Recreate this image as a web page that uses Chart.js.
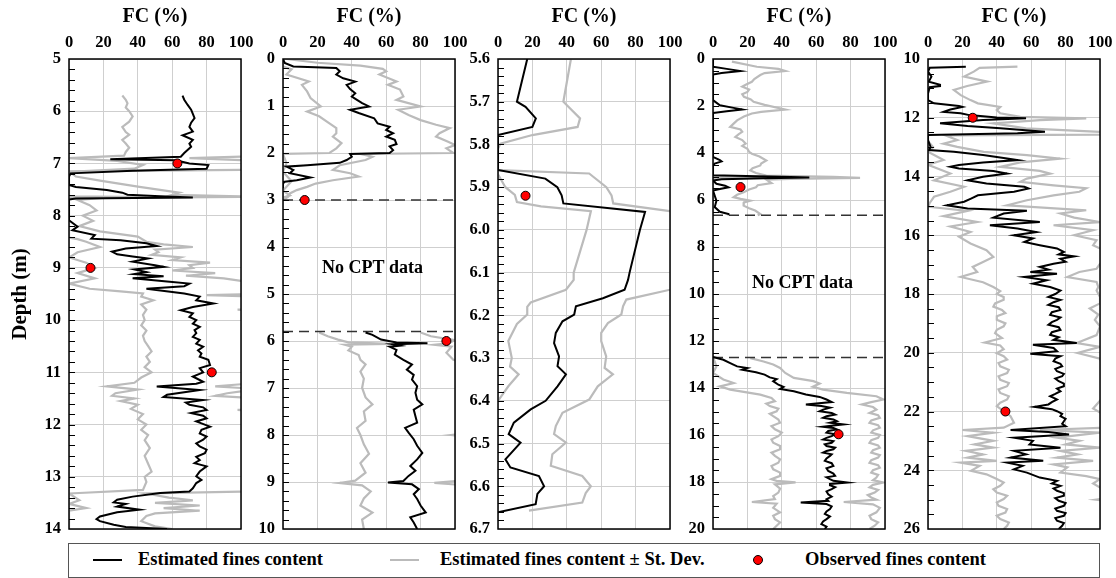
<!DOCTYPE html>
<html>
<head>
<meta charset="utf-8">
<script src="https://cdn.jsdelivr.net/npm/chart.js@4.4.0/dist/chart.umd.min.js"></script>
<style>
body { margin: 0; background: #fff; width: 1116px; height: 578px; position: relative; overflow: hidden; }
canvas { position: absolute; top: 0; }
#legend { position: absolute; left: 68px; top: 543px; width: 1032px; height: 35px; box-sizing: border-box;
  border: 1px solid #555; font: bold 18.5px 'Liberation Serif', 'Times New Roman', serif; color: #000; }
#legend .ln { position: absolute; top: 15px; width: 29px; height: 2px; }
#legend .tx { position: absolute; top: 5px; white-space: nowrap; line-height: 21px; }
#legend .dot { position: absolute; top: 11px; width: 8px; height: 8px; border-radius: 50%; background: #f00; border: 1px solid #000; }
</style>
</head>
<body>
<div id="legend">
  <span class="ln" style="left:24px;background:#000"></span><span class="tx" style="left:69px">Estimated fines content</span>
  <span class="ln" style="left:321px;background:#bbb"></span><span class="tx" style="left:371px">Estimated fines content ± St. Dev.</span>
  <span class="dot" style="left:684px"></span><span class="tx" style="left:736px">Observed fines content</span>
</div>
<script>
// [depth (m), FC (%)]
p1Est = [[5.7,66],[5.78,67],[5.88,69],[5.97,71],[6.05,72],[6.13,73],[6.22,71],[6.3,70],[6.39,72],[6.46,66],[6.55,72],[6.62,70],[6.68,71],[6.8,67],[6.87,65],[6.92,24],[6.94,62],[7.0,70],[7.03,81],[7.1,80],[7.14,37],[7.19,1],[7.25,0],[7.41,0],[7.45,4],[7.51,22],[7.56,31],[7.6,34],[7.63,53],[7.65,72],[7.67,4],[7.69,0],[8.09,0],[8.21,5],[8.28,2],[8.37,15],[8.44,13],[8.47,30],[8.53,45],[8.58,51],[8.63,33],[8.69,25],[8.74,28],[8.78,37],[8.82,46],[8.88,37],[8.95,50],[8.98,55],[9.03,38],[9.08,45],[9.12,38],[9.16,55],[9.2,37],[9.26,57],[9.3,70],[9.35,67],[9.4,45],[9.49,67],[9.55,76],[9.62,74],[9.68,84],[9.75,72],[9.81,65],[9.87,72],[9.94,70],[10.0,74],[10.07,72],[10.13,76],[10.19,73],[10.25,74],[10.32,72],[10.38,76],[10.45,74],[10.51,78],[10.58,75],[10.64,77],[10.7,76],[10.76,81],[10.86,82],[10.92,76],[11.0,78],[11.08,72],[11.18,78],[11.22,74],[11.27,51],[11.34,76],[11.43,57],[11.47,55],[11.53,78],[11.58,68],[11.62,70],[11.67,78],[11.72,80],[11.78,71],[11.83,78],[11.88,80],[11.94,74],[12.04,82],[12.1,77],[12.17,76],[12.23,80],[12.29,78],[12.36,74],[12.42,76],[12.48,80],[12.55,79],[12.62,74],[12.68,76],[12.74,73],[12.8,80],[12.9,76],[12.99,74],[13.06,77],[13.12,74],[13.22,72],[13.28,70],[13.31,53],[13.38,37],[13.44,28],[13.49,26],[13.52,33],[13.57,28],[13.63,41],[13.68,28],[13.76,18],[13.81,16],[13.85,18],[13.92,26],[13.96,33],[14.0,57]]
p1Lo = [[5.7,31],[5.78,33],[5.85,34],[5.93,33],[6.0,35],[6.1,37],[6.2,35],[6.3,31],[6.4,33],[6.45,35],[6.55,31],[6.62,33],[6.7,35],[6.78,33],[6.85,32],[6.9,0],[6.95,28],[7.03,43],[7.1,38],[7.16,0],[7.63,0],[7.645,45],[7.66,0],[8.42,0],[8.45,5],[8.5,10],[8.6,18],[8.7,5],[8.8,0],[8.9,10],[9.0,15],[9.1,5],[9.2,15],[9.3,0],[9.4,12],[9.45,30],[9.49,43],[9.55,42],[9.62,49],[9.7,42],[9.8,45],[9.9,43],[10.0,44],[10.1,42],[10.2,45],[10.3,43],[10.4,44],[10.5,46],[10.6,48],[10.7,45],[10.8,47],[10.9,44],[11.0,48],[11.1,42],[11.2,38],[11.27,22],[11.33,40],[11.4,27],[11.45,25],[11.5,38],[11.55,30],[11.62,40],[11.7,36],[11.8,43],[11.9,40],[12.0,45],[12.1,42],[12.2,46],[12.3,44],[12.45,47],[12.6,44],[12.75,46],[12.9,48],[13.0,44],[13.1,45],[13.25,43],[13.32,0],[13.45,6],[13.52,0],[13.6,10],[13.65,0],[14.0,0]]
p1Hi = [[6.86,110],[6.9,70],[6.95,110],[7.12,110],[7.15,0],[7.25,4],[7.33,18],[7.45,41],[7.56,64],[7.6,60],[7.64,110],[7.66,20],[7.7,5],[7.8,12],[7.9,16],[8.0,8],[8.1,14],[8.2,6],[8.3,18],[8.4,40],[8.5,45],[8.55,55],[8.6,72],[8.65,50],[8.7,52],[8.75,48],[8.8,65],[8.85,60],[8.9,82],[8.95,70],[9.0,72],[9.05,60],[9.1,85],[9.15,68],[9.2,90],[9.25,100],[9.3,110],[9.5,110],[9.52,80],[9.55,110],[9.78,110],[9.8,98],[9.82,110],[11.2,110],[11.27,85],[11.32,110],[11.4,92],[11.45,85],[11.5,110],[11.7,110],[11.72,98],[11.75,110],[13.28,110],[13.32,45],[13.4,58],[13.45,72],[13.5,50],[13.55,76],[13.6,55],[13.65,76],[13.7,50],[13.75,45],[13.85,42],[13.95,50],[14.0,60]]
p1Obs = [[7.0,63],[9.0,12.5],[11.0,83]]

p2EstA = [[0,0],[0.085,1],[0.16,6],[0.19,31],[0.26,33],[0.33,31],[0.41,35],[0.48,42],[0.55,37],[0.64,39],[0.73,42],[0.8,40],[0.87,43],[0.94,46],[1.01,50],[1.08,39],[1.15,44],[1.26,53],[1.37,55],[1.44,62],[1.51,60],[1.58,64],[1.65,60],[1.72,65],[1.81,66],[1.86,62],[1.94,64],[2.0,62],[2.02,39],[2.08,40],[2.15,37],[2.21,33],[2.26,14],[2.29,2],[2.36,6],[2.43,4],[2.52,16],[2.58,8],[2.61,1],[2.65,0],[2.75,0]]
p2EstB = [[5.82,48],[5.87,52],[5.97,57],[6.03,66],[6.05,84],[6.07,64],[6.1,68],[6.12,62],[6.19,66],[6.29,65],[6.4,70],[6.5,75],[6.61,72],[6.72,76],[6.82,75],[6.96,78],[7.1,77],[7.25,78],[7.35,81],[7.46,76],[7.6,77],[7.74,78],[7.85,71],[7.95,73],[8.09,76],[8.23,78],[8.38,81],[8.52,78],[8.66,74],[8.76,77],[8.87,73],[8.98,70],[9.01,61],[9.05,75],[9.15,79],[9.26,76],[9.36,78],[9.5,80],[9.65,83],[9.75,74],[9.86,76],[10.0,78]]
p2LoA = [[0.1,0],[0.16,0],[0.22,5],[0.33,2],[0.48,15],[0.55,11],[0.69,14],[0.83,16],[1.01,22],[1.12,14],[1.22,21],[1.37,27],[1.47,31],[1.58,31],[1.65,29],[1.79,34],[1.9,31],[2.0,27],[2.02,0],[2.22,2],[2.4,0],[2.6,5],[2.8,0],[2.9,4],[2.95,0]]
p2LoB = [[5.82,21],[5.9,26],[5.97,32],[6.03,38],[6.06,62],[6.08,36],[6.12,40],[6.2,38],[6.3,44],[6.4,45],[6.5,48],[6.65,45],[6.8,47],[7.0,46],[7.2,48],[7.35,52],[7.5,47],[7.7,48],[7.85,43],[8.0,45],[8.2,47],[8.4,50],[8.6,45],[8.8,48],[8.97,42],[9.02,33],[9.07,46],[9.2,51],[9.35,47],[9.5,45],[9.65,52],[9.8,46],[10.0,47]]
p2HiA = [[0,2],[0.08,20],[0.14,45],[0.21,58],[0.26,60],[0.33,56],[0.48,66],[0.55,61],[0.65,68],[0.8,70],[0.87,66],[1.01,80],[1.08,67],[1.19,73],[1.3,80],[1.4,89],[1.47,97],[1.58,91],[1.65,89],[1.76,96],[1.83,100],[1.9,95],[2.0,99],[2.02,45],[2.08,52],[2.15,48],[2.26,33],[2.36,29],[2.43,39],[2.5,44],[2.58,29],[2.65,19],[2.72,14],[2.79,8],[2.86,4],[2.93,3],[3.0,0]]
p2HiB = [[5.82,80],[5.9,86],[5.98,100],[6.05,96],[6.08,88],[6.12,98],[6.25,95],[6.4,99],[6.5,110],[7.95,110],[8.0,98],[8.05,110],[8.95,110],[9.02,88],[9.08,110],[10.0,110]]
p2Obs = [[3.0,12.6],[6.0,95]]

p3Est = [[5.6,17],[5.7,11],[5.712,16],[5.739,22],[5.759,20],[5.778,0],[5.86,0],[5.88,27.5],[5.9,34.5],[5.919,37],[5.938,38],[5.958,85.5],[6.0,82.5],[6.1,76.5],[6.117,75.6],[6.14,73.6],[6.16,61],[6.179,45.3],[6.198,44.3],[6.214,37.5],[6.241,33.6],[6.265,32.6],[6.296,35.5],[6.319,34.6],[6.338,39.5],[6.366,34.6],[6.4,27.7],[6.42,19],[6.451,9.2],[6.478,6.2],[6.498,13.1],[6.537,4.3],[6.556,7.2],[6.576,23.8],[6.6,26.8],[6.618,22.9],[6.642,21.9],[6.661,0]]
p3Lo = [[5.87,0],[5.9,4.3],[5.918,9.8],[5.935,11],[5.945,25],[5.956,54],[6.0,51.5],[6.1,44],[6.117,44],[6.14,39.5],[6.17,19],[6.18,17],[6.198,17],[6.22,11],[6.26,6],[6.3,8],[6.32,7],[6.338,12],[6.366,6],[6.4,0]]
p3Hi = [[5.6,42.4],[5.7,38],[5.739,47.7],[5.759,46.3],[5.778,20],[5.798,1.4],[5.81,0],[5.86,0],[5.868,53],[5.9,63],[5.919,66],[5.938,67],[5.956,100],[5.97,110],[6.13,110],[6.14,100],[6.163,74.6],[6.179,72.7],[6.198,71.7],[6.218,63.9],[6.241,60],[6.26,60],[6.296,62.9],[6.323,62],[6.338,66.8],[6.366,58],[6.397,53],[6.428,37.5],[6.459,33.6],[6.478,32.6],[6.498,39.5],[6.525,31.6],[6.552,30.7],[6.576,49],[6.6,54],[6.616,51],[6.638,49],[6.657,18]]
p3Obs = [[5.92,16]]

p4EstA = [[0,0],[0.33,0],[0.42,8],[0.51,16],[0.6,5],[0.66,0],[1.75,0],[1.97,4],[2.08,12],[2.15,17],[2.22,8],[2.3,0],[4.17,0],[4.3,4],[4.36,5],[4.45,1],[4.53,0],[4.95,0],[5.02,45],[5.04,56],[5.07,30],[5.12,5],[5.17,0],[5.31,2],[5.39,7],[5.46,9],[5.53,4],[5.6,0],[6.03,2],[6.3,1],[6.5,4],[6.6,9],[6.65,9]]
p4EstB = [[12.68,0],[12.8,6],[12.94,10],[13.08,14],[13.15,20],[13.22,17],[13.33,25],[13.43,30],[13.55,33],[13.62,37],[13.71,35],[13.86,38],[13.95,41],[14.04,39],[14.14,47],[14.28,54],[14.38,62],[14.49,66],[14.6,69],[14.7,54],[14.77,63],[14.84,68],[14.92,64],[14.99,62],[15.06,69],[15.13,71],[15.2,66],[15.27,64],[15.34,70],[15.41,72],[15.48,68],[15.55,76],[15.6,70],[15.65,64],[15.7,70],[15.76,72],[15.83,67],[15.9,66],[15.97,71],[16.05,69],[16.12,66],[16.19,64],[16.26,70],[16.33,69],[16.4,65],[16.47,66],[16.54,71],[16.61,70],[16.68,66],[16.75,64],[16.82,69],[16.89,68],[17.0,66],[17.1,65],[17.2,69],[17.32,70],[17.42,66],[17.53,67],[17.64,70],[17.74,71],[17.8,66],[17.88,68],[17.95,70],[18.02,78],[18.08,68],[18.14,68],[18.22,71],[18.3,69],[18.4,66],[18.52,67],[18.62,69],[18.73,66],[18.8,67],[18.87,51],[18.94,66],[19.04,69],[19.15,68],[19.25,66],[19.36,65],[19.47,68],[19.58,66],[19.68,64],[19.79,63],[19.9,66],[20.0,65]]
p4LoA = [[0,0],[5.0,0],[5.04,30],[5.08,0],[6.65,0]]
p4LoB = [[12.68,0],[13.08,2],[13.36,0],[13.64,6],[13.79,12],[13.93,4],[14.07,10],[14.28,27.5],[14.42,34],[14.56,36],[14.67,31],[14.77,33],[14.88,38],[14.99,37],[15.1,33],[15.2,35],[15.34,38],[15.48,39],[15.62,34],[15.76,36],[15.9,40],[16.05,38],[16.19,34],[16.33,35],[16.47,39],[16.61,39],[16.75,34],[16.89,36],[17.04,39],[17.18,38],[17.32,34],[17.46,35],[17.6,39],[17.74,39],[17.88,34],[17.95,37],[18.02,48],[18.1,36],[18.28,39],[18.45,38],[18.6,35],[18.73,36],[18.85,22.6],[18.92,37],[19.1,35],[19.29,39],[19.44,35],[19.58,36],[19.72,39],[19.86,37],[20.0,35]]
p4HiA = [[0.11,11],[0.33,25.5],[0.42,38],[0.51,42],[0.6,30],[0.68,27.5],[0.85,24],[0.97,22.6],[1.1,19],[1.18,17],[1.3,21],[1.4,20],[1.5,17],[1.61,18],[1.72,22],[1.82,23.6],[1.95,30],[2.15,42],[2.25,28],[2.32,22.6],[2.45,18],[2.61,14],[2.75,12],[2.89,10],[3.0,16],[3.1,17],[3.2,15],[3.32,13],[3.45,17],[3.6,19],[3.7,17],[3.82,20],[3.95,21],[4.03,22.6],[4.15,27],[4.32,31],[4.45,28],[4.53,27.5],[4.65,23],[4.74,21.7],[4.85,25],[4.96,31],[5.02,70],[5.06,85.5],[5.1,45],[5.13,31],[5.28,34],[5.37,26],[5.46,25],[5.55,21],[5.67,17.8],[5.78,14],[5.88,12],[5.95,16],[6.03,21.7],[6.1,18],[6.24,17.8],[6.35,21],[6.45,24.5],[6.6,27.5],[6.65,26]]
p4HiB = [[12.73,21.7],[12.87,29.4],[13.0,35],[13.15,39],[13.36,42],[13.57,47],[13.71,58.4],[13.81,62],[13.95,58],[14.07,64],[14.21,77.8],[14.35,95],[14.49,99],[14.6,92],[14.7,86.5],[14.81,93],[14.92,95],[15.06,91],[15.16,96],[15.27,97],[15.38,92],[15.48,91],[15.58,96],[15.69,97],[15.8,93],[15.9,92],[16.0,97],[16.12,96],[16.22,92],[16.33,91],[16.44,96],[16.54,97],[16.65,93],[16.75,92],[16.86,97],[16.96,96],[17.07,92],[17.18,91],[17.28,96],[17.39,97],[17.5,93],[17.6,92],[17.7,96],[17.81,95],[17.92,93],[18.02,99],[18.12,93],[18.23,91],[18.34,96],[18.45,94],[18.56,90],[18.66,92],[18.75,95],[18.85,76],[18.95,93],[19.1,97],[19.29,95],[19.44,91],[19.58,92],[19.72,96],[19.86,94],[20.0,91]]
p4Obs = [[5.45,16],[15.97,73]]

p5Est = [[10.26,22],[10.3,1],[10.43,0],[10.6,2],[10.77,0.5],[10.88,7],[10.92,7],[10.96,1],[11.17,0],[11.4,0],[11.51,3.5],[11.6,18],[11.63,20],[11.72,13],[11.8,9],[11.85,19],[11.91,24],[11.99,40],[12.02,57],[12.08,32],[12.19,7],[12.28,23],[12.36,42],[12.48,68],[12.53,52],[12.59,0],[12.76,0],[12.99,1.5],[13.1,0.6],[13.16,15],[13.27,32],[13.39,46],[13.44,52],[13.52,32],[13.61,18],[13.67,13],[13.73,18],[13.81,38],[13.9,46],[14.01,32],[14.13,23],[14.24,34],[14.35,56],[14.41,58.5],[14.52,50],[14.64,29],[14.75,25],[14.86,21],[14.98,11],[15.09,23],[15.17,57.5],[15.26,44],[15.4,38],[15.55,65],[15.66,36],[15.77,52],[15.89,63],[16.0,50],[16.11,61],[16.23,56],[16.34,65],[16.45,75],[16.57,79],[16.65,76],[16.72,85],[16.8,77],[16.9,80],[16.97,73],[17.08,65],[17.17,70],[17.25,59.5],[17.31,75],[17.42,56],[17.53,69],[17.65,61],[17.76,71],[17.88,77],[18.0,74],[18.1,70],[18.2,77],[18.28,73],[18.37,70],[18.45,76],[18.54,77],[18.62,72],[18.71,71],[18.8,77],[18.88,75],[18.96,72],[19.05,70],[19.13,76],[19.22,77],[19.3,72],[19.39,71],[19.47,76],[19.56,73],[19.67,86.5],[19.73,61],[19.84,73],[19.95,75],[20.03,59.5],[20.12,77],[20.2,74],[20.29,73],[20.38,77],[20.46,78],[20.55,74],[20.63,75],[20.72,79],[20.8,78],[20.88,74],[20.97,76],[21.05,79],[21.14,79],[21.22,75],[21.31,77],[21.4,74],[21.48,71],[21.59,75],[21.68,72],[21.76,70],[21.84,62],[21.92,72],[21.99,75],[22.08,78],[22.16,77],[22.25,80],[22.33,79],[22.42,78],[22.5,80],[22.63,48],[22.7,70],[22.78,82],[22.89,50],[23.0,61],[23.12,59],[23.23,77],[23.34,50],[23.46,57],[23.57,48],[23.68,67],[23.74,46],[23.85,55],[23.97,50],[24.08,57.5],[24.25,65],[24.36,75],[24.45,72],[24.53,77],[24.62,73],[24.7,75],[24.78,79],[24.87,79],[24.95,74],[25.04,76],[25.12,80],[25.21,79],[25.3,74],[25.38,75],[25.46,80],[25.55,79],[25.63,74],[25.72,75],[25.8,79],[25.89,78],[26.0,76]]
p5Lo = [[10.26,0],[12.8,0],[13.0,3],[13.16,0],[13.44,9],[13.6,0],[13.9,13],[14.13,3.5],[14.35,21],[14.52,13],[14.69,3.5],[14.9,1],[15.03,0],[15.17,23],[15.35,9],[15.55,28.6],[15.7,13],[15.89,24.7],[16.05,18],[16.28,24.7],[16.51,34],[16.74,38],[16.91,32],[17.08,26],[17.25,28.6],[17.42,19],[17.6,32],[17.76,38],[17.9,42],[18.0,40],[18.1,44],[18.2,44],[18.32,39],[18.43,38],[18.54,43],[18.65,45],[18.76,40],[18.88,40],[19.0,45],[19.1,44],[19.22,40],[19.33,39],[19.5,43],[19.65,33],[19.75,42],[19.88,44],[20.01,40],[20.12,44],[20.23,46],[20.35,41],[20.46,42],[20.58,47],[20.69,46],[20.8,41],[20.92,42],[21.03,47],[21.14,46],[21.25,41],[21.37,42],[21.48,47],[21.59,46],[21.7,42],[21.82,40],[21.99,44],[22.16,48],[22.38,50],[22.55,44],[22.63,20],[22.72,38],[22.84,23],[23.0,38],[23.12,27],[23.23,38],[23.34,22],[23.46,32],[23.57,23],[23.68,40],[23.74,19],[23.85,30],[24.02,25],[24.14,34],[24.3,40],[24.42,44],[24.53,42],[24.65,38],[24.76,40],[24.87,46],[24.98,44],[25.1,40],[25.21,41],[25.32,46],[25.44,45],[25.55,40],[25.66,42],[25.78,47],[25.89,46],[26.0,44]]
p5Hi = [[10.26,52],[10.3,30],[10.43,26.6],[10.6,21],[10.77,34.4],[10.92,22.8],[11.05,15],[11.23,19],[11.4,24.7],[11.51,29],[11.63,42],[11.74,40],[11.85,42],[11.97,53.7],[12.02,92],[12.08,65],[12.19,38],[12.36,57],[12.48,100],[12.57,110],[12.6,10],[12.76,17],[12.88,9],[12.99,17],[13.16,32.4],[13.27,57.5],[13.39,76.8],[13.52,53.7],[13.67,42],[13.81,65],[13.9,71],[14.07,57.5],[14.18,53.7],[14.3,73],[14.4,92],[14.52,88],[14.64,73],[14.81,57.5],[14.98,46],[15.15,92],[15.26,77],[15.4,85],[15.55,100],[15.66,73],[15.83,96],[16.0,85],[16.17,98],[16.34,96],[16.45,100],[16.5,110],[16.95,110],[16.97,100],[17.14,98],[17.25,88],[17.42,81],[17.59,98],[17.76,99],[17.88,98],[18.1,100],[18.32,100],[18.49,94],[18.7,99],[18.88,97],[19.1,100],[19.4,98],[19.67,86.5],[19.8,100],[20.01,87],[20.2,100],[20.5,102],[21.5,102],[21.9,96],[22.1,102],[22.55,102],[22.63,65],[22.72,100],[22.89,75],[23.0,88],[23.12,80],[23.23,100],[23.34,77],[23.46,87],[23.57,75],[23.68,96],[23.8,73],[23.9,81],[24.08,77],[24.2,92],[24.3,100],[24.45,96],[24.59,100],[24.7,105],[24.95,105],[25.0,98],[25.05,105],[26.0,105]]
p5Obs = [[12.0,26],[22.0,45]]

Chart.defaults.font.family = "'Liberation Serif', 'Times New Roman', serif"
Chart.defaults.font.weight = 'bold'
Chart.defaults.font.size = 16.5
Chart.defaults.color = '#000'

const lefts = [69, 283, 498, 713, 928], plotW = 172

// y: [min, max, major step, minor step]
const panels = [
  { est: [p1Est], lo: [p1Lo], hi: [p1Hi], obs: p1Obs, y: [5, 14, 1, 0.2], dash: [], note: null },
  { est: [p2EstA, p2EstB], lo: [p2LoA, p2LoB], hi: [p2HiA, p2HiB], obs: p2Obs, y: [0, 10, 1, 0.2], dash: [3.0, 5.8], note: ['No CPT data', 52, 4.45] },
  { est: [p3Est], lo: [p3Lo], hi: [p3Hi], obs: p3Obs, y: [5.6, 6.7, 0.1, 0.02], dash: [], note: null, dec: true },
  { est: [p4EstA, p4EstB], lo: [p4LoA, p4LoB], hi: [p4HiA, p4HiB], obs: p4Obs, y: [0, 20, 2, 0.5], dash: [6.65, 12.7], note: ['No CPT data', 52, 9.55] },
  { est: [p5Est], lo: [p5Lo], hi: [p5Hi], obs: p5Obs, y: [10, 26, 2, 0.5], dash: [], note: null }
]

const frame = {
  id: 'frame',
  afterDatasetsDraw(chart, args, o) {
    const { ctx, chartArea: a, scales: { x, y } } = chart
    ctx.save()
    ctx.strokeStyle = '#000'
    ctx.lineWidth = 1
    const n = Math.round((y.max - y.min) / o.minor)
    for (let k = 1; k < n; k++) {
      const py = Math.round(y.getPixelForValue(y.min + k * o.minor)) + 0.5
      ctx.beginPath(); ctx.moveTo(a.left, py); ctx.lineTo(a.left + 6, py); ctx.stroke()
    }
    ctx.lineWidth = 1.5
    ctx.strokeRect(a.left, a.top, a.right - a.left, a.bottom - a.top)
    if (o.note) {
      ctx.font = "bold 18px 'Liberation Serif', serif"
      ctx.fillStyle = '#000'
      ctx.textAlign = 'center'
      ctx.textBaseline = 'middle'
      ctx.fillText(o.note[0], x.getPixelForValue(o.note[1]), y.getPixelForValue(o.note[2]))
    }
    ctx.restore()
  }
}

const pts = a => a.map(([d, v]) => ({ x: v, y: d }))
const line = (a, color, w, order) => ({ data: pts(a), showLine: true, borderColor: color, borderWidth: w, pointRadius: 0, tension: 0, order })

panels.forEach((p, i) => {
  const yW = i === 0 ? 69 : 46
  const cv = document.createElement('canvas')
  cv.width = yW + plotW + 16
  cv.height = 540
  cv.style.left = (lefts[i] - yW) + 'px'
  document.body.appendChild(cv)

  const datasets = [{ data: pts(p.obs), pointRadius: 4.5, pointBackgroundColor: '#ff0000', pointBorderColor: '#000', pointBorderWidth: 1, order: 0 }]
  p.est.forEach(a => datasets.push(line(a, '#000', 2, 1)))
  p.dash.forEach(d => datasets.push({ data: [{ x: 0, y: d }, { x: 100, y: d }], showLine: true, borderColor: '#333', borderWidth: 1.5, borderDash: [10, 6], pointRadius: 0, order: 2 }))
  p.lo.concat(p.hi).forEach(a => datasets.push(line(a, '#bbbbbb', 2.2, 3)))

  new Chart(cv, {
    type: 'scatter',
    data: { datasets },
    plugins: [frame],
    options: {
      responsive: false,
      animation: false,
      events: [],
      layout: { padding: { left: 0, right: 16, top: 0, bottom: 11 } },
      plugins: { legend: { display: false }, tooltip: { enabled: false }, frame: { minor: p.y[3], note: p.note } },
      scales: {
        x: {
          type: 'linear', position: 'top', min: 0, max: 100,
          ticks: { stepSize: 20, padding: 6 },
          grid: { color: '#cfcfcf', drawTicks: false },
          border: { display: false },
          title: { display: true, text: 'FC (%)', font: { size: 20, weight: 'bold' }, padding: { top: 5, bottom: 0 } },
          afterFit: s => { s.height = 59; s.paddingLeft = 0; s.paddingRight = 0 }
        },
        y: {
          type: 'linear', reverse: true, min: p.y[0], max: p.y[1],
          ticks: { stepSize: p.y[2], padding: 8, maxTicksLimit: 30, autoSkip: false, callback: v => p.dec ? v.toFixed(1) : v },
          grid: { color: '#cfcfcf', drawTicks: false },
          border: { display: false },
          title: { display: i === 0, text: 'Depth (m)', font: { size: 21, weight: 'bold' }, padding: { top: 8, bottom: 0 } },
          afterFit: s => { s.width = yW; s.paddingTop = 0; s.paddingBottom = 0 }
        }
      }
    }
  })
})
</script>
</body>
</html>
